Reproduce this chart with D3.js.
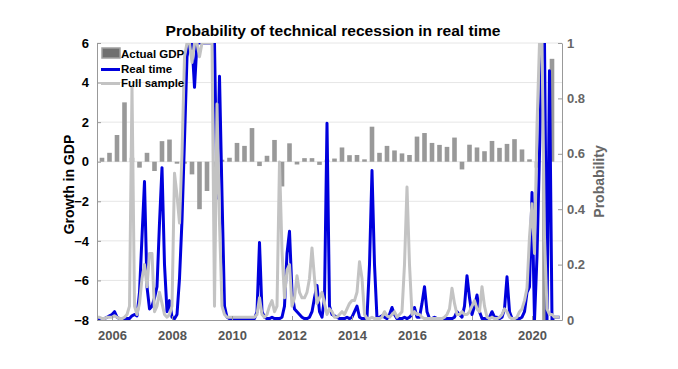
<!DOCTYPE html>
<html><head><meta charset="utf-8">
<script src="https://cdn.jsdelivr.net/npm/d3@7"></script>
<style>body{margin:0;background:#fff}text{font-family:"Liberation Sans",Arial,Helvetica,sans-serif;font-weight:bold}</style>
</head><body><svg id="c" width="678" height="369"></svg>
<script>
// ---- data ----
const titleText = "Probability of technical recession in real time";
const monthStart = 2005.5;          // first monthly observation (Jul 2005)
const quarterStart = 2005.5;        // first quarter shown (2005Q3)
const gdpGrowth = [
 0.2,0.45,1.35,3.0,0.2,-0.3,0.45,-0.47,1.04,1.12,
 -0.1,-0.1,-0.64,-2.4,-1.48,-0.3,0.1,0.2,0.95,0.8,
 1.7,-0.22,0.3,1.1,-1.25,0.93,-0.14,0.18,0.18,-0.16,
 0.1,0.16,0.72,0.33,0.34,0.12,1.77,0.45,0.8,0.57,
 0.42,0.34,1.27,1.45,0.95,0.85,0.75,1.22,-0.39,0.86,
 0.72,0.53,1.05,0.7,0.9,1.14,0.62,0.12,-0.3,-8.3,
 5.2];
const realTime = [
 0.005,0.005,0.005,0.005,0.01,0.015,0.02,0.03,0.01,0.005,
 0.005,0.005,0.005,0.005,0.015,0.02,0.015,0.1,0.3,0.5,
 0.12,0.04,0.05,0.08,0.12,0.35,0.55,0.2,0.03,0.07,
 0.01,0.005,0.02,0.15,0.36,0.65,0.95,1,1,0.84,
 1,1,1,1,1,1,1,1,0.44,0.88,
 0.45,0.05,0.01,0.005,0.005,0.005,0.005,0.005,0.005,0.005,
 0.005,0.005,0.005,0.005,0.03,0.28,0.03,0.01,0.005,0.005,
 0.01,0.005,0.005,0.005,0.01,0.05,0.24,0.32,0.1,0.04,
 0.03,0.02,0.01,0.005,0.005,0.01,0.03,0.08,0.125,0.03,
 0.01,0.08,0.71,0.05,0.02,0.015,0.01,0.005,0.005,0.005,
 0.01,0.005,0.01,0.03,0.05,0.01,0.005,0.005,0.01,0.2,
 0.54,0.2,0.005,0.01,0.015,0.01,0.005,0.02,0.045,0.02,
 0.005,0.005,0.005,0.01,0.005,0.01,0.02,0.045,0.01,0.01,
 0.06,0.12,0.03,0.005,0.005,0.01,0.005,0.005,0.005,0.005,
 0.005,0.005,0.005,0.01,0.03,0.02,0.01,0.05,0.16,0.08,
 0.02,0.05,0.09,0.03,0.005,0.005,0.005,0.01,0.03,0.01,
 0.01,0.005,0.01,0.04,0.156,0.03,0.005,0.005,0.005,0.005,
 0.01,0.03,0.1,0.12,0.46,0,0.23,0.6,1,1,
 0,0.9,0,0.01,0.01,0.01];
const fullSample = [
 0.01,0.01,0.005,0.005,0.01,0.01,0.01,0.015,0.01,0.005,
 0.005,0.01,0.02,0.05,0.84,0.05,0.02,0.06,0.15,0.2,
 0.12,0.24,0.24,0.03,0.05,0.1,0.06,0.02,0.01,0.02,
 0.05,0.53,0.45,0.35,0.6,0.95,1,1,0.93,1,
 1,0.95,1,1,1,1,1,0.05,0.78,0.35,
 0.05,0.02,0.01,0.01,0.01,0.01,0.01,0.01,0.01,0.01,
 0.01,0.01,0.01,0.01,0.02,0.08,0.02,0.01,0.02,0.05,
 0.07,0.03,0.05,0.57,0.25,0.08,0.18,0.2,0.05,0.08,
 0.16,0.1,0.08,0.08,0.1,0.15,0.26,0.15,0.06,0.08,
 0.1,0.06,0.02,0.04,0.03,0.01,0.01,0.02,0.03,0.02,
 0.04,0.06,0.07,0.07,0.1,0.21,0.15,0.02,0.005,0.005,
 0.01,0.005,0.005,0.005,0.01,0.03,0.015,0.01,0.02,0.03,
 0.01,0.02,0.03,0.2,0.48,0.2,0.02,0.03,0.02,0.02,
 0.01,0.005,0.005,0.005,0.005,0.005,0.005,0.005,0.005,0.01,
 0.02,0.04,0.115,0.06,0.02,0.02,0.03,0.02,0.02,0.03,
 0.05,0.07,0.04,0.03,0.12,0.05,0.01,0.005,0.01,0.005,
 0.005,0.01,0.02,0.04,0.03,0.01,0.005,0.005,0.01,0.03,
 0.04,0.07,0.115,0.3,0.42,0.24,0.7,1,1,0.3,
 0.04,0.02,0.02,0.01,0.01,0.01];
const leftTicks = [-8,-6,-4,-2,0,2,4,6];
const rightTicks = [0,0.2,0.4,0.6,0.8,1];
const yearTicks = [2006,2008,2010,2012,2014,2016,2018,2020];
const legendLabels = ["Actual GDP","Real time","Full sample"];

// ---- layout ----
const L=97,R=562,T=43,B=320;
const svg=d3.select("#c");
const x=d3.scaleLinear().domain([2005.5,2021]).range([L,R]);
const yL=d3.scaleLinear().domain([-8,6]).range([B,T]);
const yR=d3.scaleLinear().domain([0,1]).range([B,T]);

svg.append("defs").append("clipPath").attr("id","pc")
  .append("rect").attr("x",L).attr("y",T).attr("width",R-L).attr("height",B-T);

// grid
svg.append("g").selectAll("line").data(leftTicks.filter(d=>d>-8)).join("line")
  .attr("x1",L).attr("x2",R).attr("y1",d=>yL(d)).attr("y2",d=>yL(d))
  .attr("stroke","#e6e6e6").attr("stroke-width",1);

const plot=svg.append("g").attr("clip-path","url(#pc)");
// bars
const bw=4.6;
const qDate=i=>quarterStart+i*0.25+2/12;
plot.append("g").selectAll("rect").data(gdpGrowth).join("rect")
  .attr("x",(d,i)=>x(qDate(i))-bw/2).attr("width",bw)
  .attr("y",d=>yL(Math.max(0,d))).attr("height",d=>Math.abs(yL(d)-yL(0)))
  .attr("fill","#999999");
// lines
const line=d3.line().x((d,i)=>x(monthStart+i/12)).y(d=>yR(d));
plot.append("path").datum(realTime).attr("d",line).attr("fill","none")
  .attr("stroke","#0000dd").attr("stroke-width",3).attr("stroke-linejoin","round");
plot.append("path").datum(fullSample).attr("d",line).attr("fill","none")
  .attr("stroke","#c3c3c3").attr("stroke-width",3).attr("stroke-linejoin","round");

// axes
function styleAxis(g,textColor){
  g.select(".domain").attr("stroke","#999");
  g.selectAll(".tick line").attr("stroke","#999");
  g.selectAll(".tick text").attr("fill",textColor).style("font-size","13px").style("font-weight","bold")
   .style("font-family","'Liberation Sans',Arial,sans-serif");
}
svg.append("g").attr("transform",`translate(${L},0)`)
  .call(d3.axisLeft(yL).tickValues(leftTicks).tickFormat(d3.format("d")).tickSize(-4).tickSizeOuter(0).tickPadding(8))
  .call(g=>styleAxis(g,"#000"));
svg.append("g").attr("transform",`translate(${R},0)`)
  .call(d3.axisRight(yR).tickValues(rightTicks).tickFormat(d=>d===0||d===1?String(d):d3.format(".1f")(d)).tickSize(-4).tickSizeOuter(0).tickPadding(5))
  .call(g=>styleAxis(g,"#666"));
svg.append("g").attr("transform",`translate(0,${B})`)
  .call(d3.axisBottom(x).tickValues(yearTicks).tickFormat(d3.format("d")).tickSize(-4).tickSizeOuter(0).tickPadding(11))
  .call(g=>styleAxis(g,"#555"));

// titles
svg.append("text").attr("x",333).attr("y",36).attr("text-anchor","middle")
  .style("font-size","15px").attr("fill","#000").attr("textLength",335).attr("lengthAdjust","spacingAndGlyphs").text(titleText);
svg.append("text").attr("transform",`translate(74,${(T+B)/2+3}) rotate(-90)`).attr("text-anchor","middle")
  .style("font-size","14px").attr("fill","#000").text("Growth in GDP");
svg.append("text").attr("transform",`translate(604,${(T+B)/2}) rotate(-90)`).attr("text-anchor","middle")
  .style("font-size","14px").attr("fill","#666").text("Probability");

// legend
const lg=svg.append("g");
lg.append("rect").attr("x",102).attr("y",48).attr("width",18).attr("height",10)
  .attr("fill","#707070").attr("stroke","#a0a0a0").attr("stroke-width",1.5);
lg.append("line").attr("x1",101).attr("x2",120).attr("y1",69.5).attr("y2",69.5).attr("stroke","#0000dd").attr("stroke-width",3);
lg.append("line").attr("x1",101).attr("x2",120).attr("y1",83.5).attr("y2",83.5).attr("stroke","#c3c3c3").attr("stroke-width",3);
lg.selectAll("text").data(legendLabels).join("text")
  .attr("x",121).attr("y",(d,i)=>58+i*14.5).style("font-size","11.5px").attr("fill","#000").text(d=>d);
</script></body></html>
